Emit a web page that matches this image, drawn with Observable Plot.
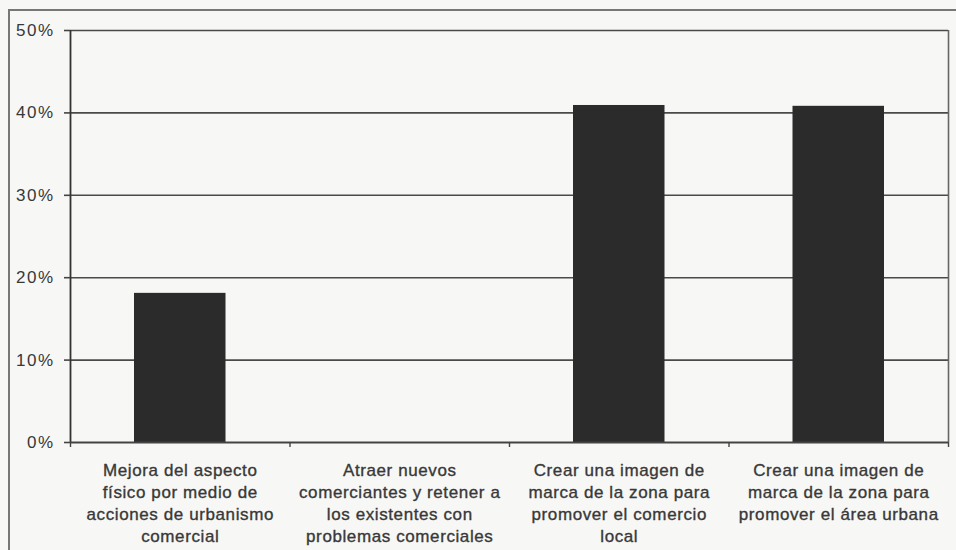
<!DOCTYPE html>
<html>
<head>
<meta charset="utf-8">
<script src="https://cdn.jsdelivr.net/npm/d3@7"></script>
<script src="https://cdn.jsdelivr.net/npm/@observablehq/plot@0.6"></script>
<style>
  html, body { margin: 0; padding: 0; background: #f7f7f5; }
  #wrap { position: relative; width: 956px; height: 550px; overflow: hidden; }
  #frame { position: absolute; left: 8px; top: 9px; width: 960px; height: 560px;
           border-top: 2px solid #777; border-left: 2px solid #777; box-sizing: border-box; }
  #chart { position: absolute; left: 0; top: 0; }
  #chart text { letter-spacing: 0.6px; paint-order: stroke; }
  #chart g[aria-label="y-axis tick label"] text { letter-spacing: 1.5px; }
</style>
</head>
<body>
<div id="wrap"><div id="frame"></div><div id="chart"></div></div>
<script>
const categories = [
  "Mejora del aspecto físico por medio de acciones de urbanismo comercial",
  "Atraer nuevos comerciantes y retener a los existentes con problemas comerciales",
  "Crear una imagen de marca de la zona para promover el comercio local",
  "Crear una imagen de marca de la zona para promover el área urbana"
];
const labelLines = [
  "Mejora del aspecto\nfísico por medio de\nacciones de urbanismo\ncomercial",
  "Atraer nuevos\ncomerciantes y retener a\nlos existentes con\nproblemas comerciales",
  "Crear una imagen de\nmarca de la zona para\npromover el comercio\nlocal",
  "Crear una imagen de\nmarca de la zona para\npromover el área urbana"
];
const values = [18.1, 0, 40.9, 40.8];
const yTicks = [0, 10, 20, 30, 40, 50];

const data = categories.map((c, i) => ({i, c, label: labelLines[i], v: values[i]}));
const boundaries = d3.range(categories.length + 1);

const chart = Plot.plot({
  width: 956, height: 550,
  marginLeft: 70, marginRight: 8, marginTop: 30, marginBottom: 108,
  style: {background: "transparent", fontFamily: "'Liberation Sans', Arial, sans-serif", color: "#383838", overflow: "visible"},
  x: {domain: [0, categories.length], axis: null},
  y: {domain: [0, 50], axis: null},
  marks: [
    Plot.ruleY(yTicks.slice(1), {stroke: "#4a4a4a", strokeWidth: 1.6}),
    Plot.rectY(data, {x1: d => d.i, x2: d => d.i + 1, y: "v", insetLeft: 64, insetRight: 64, fill: "#2b2b2b"}),
    Plot.ruleX([0], {y1: 0, y2: 50, stroke: "#333", strokeWidth: 1.8}),
    Plot.ruleX([categories.length], {y1: 0, y2: 50, stroke: "#666", strokeWidth: 1.6}),
    Plot.ruleY([0], {stroke: "#444", strokeWidth: 1.8}),
    Plot.axisY({ticks: yTicks, tickFormat: d => d + "%", label: null, tickSize: 6, tickPadding: 10, fontSize: 17, stroke: "#444", strokeWidth: 1.6}),
    Plot.axisX({ticks: boundaries, tickFormat: () => "", label: null, tickSize: 5, stroke: "#444", strokeWidth: 1.4}),
    Plot.text(data, {x: d => d.i + 0.5, y: 0, text: "label", lineAnchor: "top", dy: 18, fontSize: 17, lineHeight: 1.3, fill: "#383838", stroke: "#383838", strokeWidth: 0.35})
  ]
});
document.getElementById("chart").appendChild(chart);
</script>
</body>
</html>
